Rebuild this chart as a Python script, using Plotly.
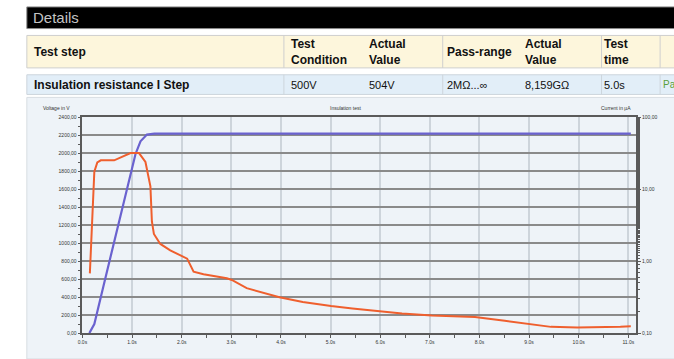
import plotly.graph_objects as go

W, H = 674, 359

# ---- data ----
volt_t = [0.14, 0.24, 0.44, 0.71, 1.07, 1.17, 1.30, 1.45, 11.05]
volt_v = [0, 100, 560, 1180, 1990, 2130, 2205, 2215, 2215]

curr_t = [0.15, 0.24, 0.30, 0.37, 0.64, 0.81, 0.97, 1.14, 1.27, 1.37, 1.40, 1.44,
          1.57, 1.77, 1.97, 2.11, 2.24, 2.44, 2.91, 3.01, 3.31, 3.97, 4.44, 5.01,
          5.44, 5.97, 6.44, 7.04, 7.50, 7.91, 8.51, 8.97, 9.44, 9.97, 10.57, 10.84, 11.05]
curr_ua = [0.675, 17.4, 23.4, 25.1, 25.1, 27.9, 31.6, 31.6, 23.8, 10.9, 3.55, 2.38,
           1.73, 1.41, 1.20, 1.08, 0.711, 0.655, 0.577, 0.547, 0.421, 0.314, 0.271, 0.237,
           0.220, 0.202, 0.187, 0.176, 0.173, 0.167, 0.148, 0.136, 0.122, 0.120, 0.120, 0.122, 0.124]

x_tickvals = list(range(0, 12))
x_ticktext = ["0.0s", "1.0s", "2.0s", "3.0s", "4.0s", "5.0s", "6.0s", "7.0s",
              "8.0s", "9.0s", "10.0s", "11.0s"]
yl_tickvals = [0, 200, 400, 600, 800, 1000, 1200, 1400, 1600, 1800, 2000, 2200, 2400]
yl_ticktext = ["0,00", "200,00", "400,00", "600,00", "800,00", "1000,00", "1200,00",
               "1400,00", "1600,00", "1800,00", "2000,00", "2200,00", "2400,00"]
yr_tickvals = [0.1, 1, 10, 100]
yr_ticktext = ["0,10", "1,00", "10,00", "100,00"]

header_cols = ["Test step", "Test<br>Condition", "Actual<br>Value", "Pass-range",
               "Actual<br>Value", "Test<br>time"]
row_vals = ["Insulation resistance I Step", "500V", "504V", "2MΩ...∞", "8,159GΩ", "5.0s"]
result_text = "Pa"


def px(x):
    return x / W


def py(y):
    return 1 - y / H


FONT = "Liberation Sans, Arial, sans-serif"

fig = go.Figure()
fig.add_trace(go.Scatter(x=volt_t, y=volt_v, mode="lines", yaxis="y",
                         line=dict(color="#6a62cf", width=2.2), showlegend=False))
fig.add_trace(go.Scatter(x=curr_t, y=curr_ua, mode="lines", yaxis="y2",
                         line=dict(color="#ef5f2e", width=2.0), showlegend=False))

shapes = []
# chart panel
shapes.append(dict(type="rect", xref="paper", yref="paper", x0=px(22), x1=px(676),
                   y0=py(362), y1=py(96), fillcolor="#eef3f8",
                   line=dict(color="#d8dde2", width=1), layer="below"))
# black title bar
shapes.append(dict(type="rect", xref="paper", yref="paper", x0=px(22), x1=px(676),
                   y0=py(26), y1=py(4), fillcolor="#000000",
                   line=dict(color="#8a8a8a", width=1), layer="below"))
# header row
shapes.append(dict(type="rect", xref="paper", yref="paper", x0=px(22), x1=px(676),
                   y0=py(66), y1=py(33), fillcolor="#fdf6dc",
                   line=dict(color="#cfcfcf", width=1), layer="below"))
# data row
shapes.append(dict(type="rect", xref="paper", yref="paper", x0=px(22), x1=px(676),
                   y0=py(93), y1=py(73), fillcolor="#e2eef8",
                   line=dict(color="#cdd5dc", width=1), layer="below"))
for xd in [281, 441, 601, 660]:
    shapes.append(dict(type="line", xref="paper", yref="paper", x0=px(xd), x1=px(xd),
                       y0=py(66), y1=py(33), line=dict(color="#cfcfcf", width=1), layer="below"))
    shapes.append(dict(type="line", xref="paper", yref="paper", x0=px(xd), x1=px(xd),
                       y0=py(93), y1=py(73), line=dict(color="#cdd5dc", width=1), layer="below"))

ann = []
ann.append(dict(text="Details", x=px(26), y=py(15), xref="paper", yref="paper",
                xanchor="left", yanchor="middle", showarrow=False,
                font=dict(family=FONT, size=15, color="#c4c4c4")))
col_x = [27, 286, 365, 443, 522, 601]
for cx, txt in zip(col_x, header_cols):
    ann.append(dict(text="<b>" + txt + "</b>", x=px(cx), y=py(49.5), xref="paper", yref="paper",
                    xanchor="left", yanchor="middle", align="left", showarrow=False,
                    font=dict(family=FONT, size=12, color="#111111")))
for i, (cx, txt) in enumerate(zip(col_x, row_vals)):
    t = "<b>" + txt + "</b>" if i == 0 else txt
    ann.append(dict(text=t, x=px(cx), y=py(83), xref="paper", yref="paper",
                    xanchor="left", yanchor="middle", showarrow=False,
                    font=dict(family=FONT, size=12 if i == 0 else 11, color="#111111")))
ann.append(dict(text=result_text, x=px(661), y=py(83), xref="paper", yref="paper",
                xanchor="left", yanchor="middle", showarrow=False,
                font=dict(family=FONT, size=10, color="#5aa03a")))
# chart captions
for cx, txt in [(52, "Voltage in V"), (343, "Insulation test"), (616, "Current in µA")]:
    ann.append(dict(text=txt, x=px(cx), y=py(107), xref="paper", yref="paper",
                    xanchor="center", yanchor="middle", showarrow=False,
                    font=dict(family=FONT, size=5, color="#333333")))

fig.update_layout(
    width=W, height=H, margin=dict(l=0, r=0, t=0, b=0),
    paper_bgcolor="#ffffff", plot_bgcolor="#eef3f8",
    font=dict(family=FONT, size=5, color="#333333"),
    shapes=shapes, annotations=ann, showlegend=False,
    xaxis=dict(domain=[px(78), px(636)], range=[0, 11.16], tickmode="array",
               tickvals=x_tickvals, ticktext=x_ticktext, showgrid=True,
               gridcolor="#cdd4db", gridwidth=1.5, showline=True, linecolor="#5a5a5a",
               linewidth=1.5, mirror=True, ticks="outside", ticklen=3, tickcolor="#5a5a5a",
               zeroline=False, tickfont=dict(size=5, color="#333333"),
               minor=dict(tickmode="linear", tick0=0, dtick=0.5, ticks="outside",
                          ticklen=3, tickcolor="#5a5a5a", showgrid=False)),
    yaxis=dict(domain=[py(335.7), py(116)], range=[0, 2400], tickmode="array",
               tickvals=yl_tickvals, ticktext=yl_ticktext, showgrid=True,
               gridcolor="#8a8a8a", gridwidth=2, showline=True, linecolor="#5a5a5a",
               linewidth=1.5, ticks="outside", ticklen=3, tickcolor="#5a5a5a",
               zeroline=False, tickfont=dict(size=5, color="#333333"),
               minor=dict(tickmode="linear", tick0=0, dtick=100, ticks="outside",
                          ticklen=3, tickcolor="#5a5a5a", showgrid=False)),
    yaxis2=dict(overlaying="y", side="right", anchor="x", type="log", range=[-1, 2],
                tickmode="array", tickvals=yr_tickvals, ticktext=yr_ticktext,
                showgrid=False, showline=True, linecolor="#5a5a5a", linewidth=1.5,
                ticks="outside", ticklen=3, tickcolor="#5a5a5a", zeroline=False,
                tickfont=dict(size=5, color="#333333"),
                minor=dict(ticks="outside", ticklen=2, tickcolor="#5a5a5a", showgrid=False)),
)

fig.write_html(
    "out.html",
    config={"displayModeBar": False},
    post_script="document.body.style.margin='0';document.body.style.padding='0';"
                "document.documentElement.style.overflow='hidden';",
)
